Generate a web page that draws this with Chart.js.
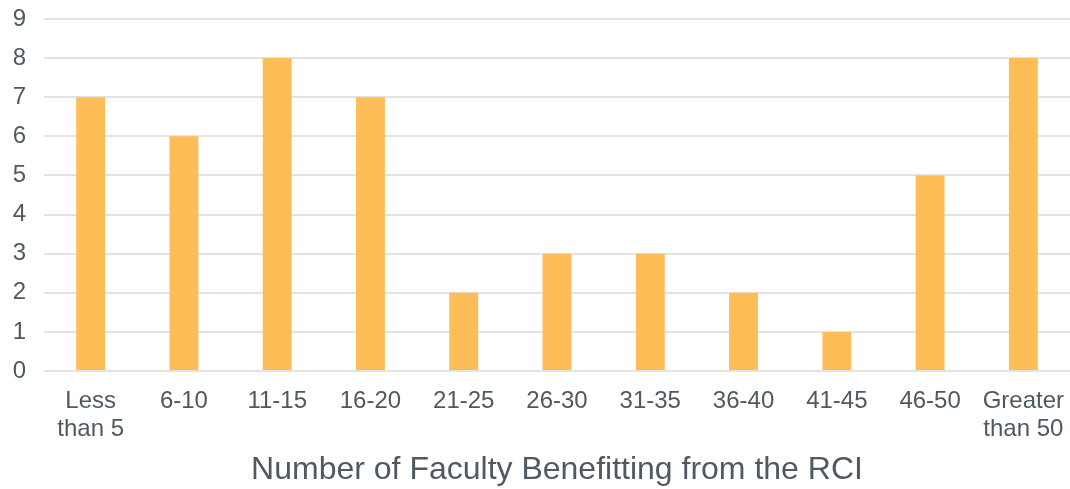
<!DOCTYPE html>
<html>
<head>
<meta charset="utf-8">
<script src="https://cdn.jsdelivr.net/npm/chart.js@4/dist/chart.umd.min.js"></script>
<style>
  html, body { margin: 0; padding: 0; background: #fff; }
  #wrap { width: 1070px; height: 489px; }
</style>
</head>
<body>
<div id="wrap"><canvas id="c" width="1070" height="489"></canvas></div>
<script>
const categories = [
  ["Less", "than 5"], "6-10", "11-15", "16-20", "21-25", "26-30",
  "31-35", "36-40", "41-45", "46-50", ["Greater", "than 50"]
];
const facultyCounts = [7, 6, 8, 7, 2, 3, 3, 2, 1, 5, 8];
const yTicks = [0, 1, 2, 3, 4, 5, 6, 7, 8, 9];
const xTitle = "Number of Faculty Benefitting from the RCI";

const textColor = "#4F5962";
const fontFamily = "'Liberation Sans', Arial, sans-serif";

new Chart(document.getElementById("c"), {
  type: "bar",
  data: {
    labels: categories,
    datasets: [{
      data: facultyCounts,
      backgroundColor: "#FDBE58",
      borderWidth: 0,
      barPercentage: 0.31,
      categoryPercentage: 1.0
    }]
  },
  options: {
    responsive: false,
    animation: false,
    devicePixelRatio: 1,
    layout: { padding: { top: 0, right: 0, bottom: 1, left: 0 } },
    plugins: { legend: { display: false }, tooltip: { enabled: false } },
    scales: {
      x: {
        afterFit: (axis) => {
          axis.height = 117;
          axis.paddingLeft = 0;
          axis.paddingRight = 0;
        },
        grid: { display: false, drawTicks: false },
        border: { display: false },
        ticks: {
          color: textColor,
          font: { family: fontFamily, size: 24, lineHeight: 1.17 },
          padding: 16,
          maxRotation: 0,
          autoSkip: false
        },
        title: {
          display: true,
          text: xTitle,
          color: textColor,
          font: { family: fontFamily, size: 32, lineHeight: 1.1 },
          padding: { top: 2, bottom: 0 }
        }
      },
      y: {
        min: 0,
        max: 9,
        afterBuildTicks: (axis) => { axis.ticks = yTicks.map(v => ({ value: v })); },
        afterFit: (axis) => {
          axis.width = 44;
          axis.paddingTop = 19;
          axis.paddingBottom = 0;
        },
        grid: { color: "#E3E3E3", lineWidth: 2, drawTicks: false },
        border: { display: false },
        ticks: {
          color: textColor,
          font: { family: fontFamily, size: 24 },
          padding: 18
        }
      }
    }
  }
});
</script>
</body>
</html>
